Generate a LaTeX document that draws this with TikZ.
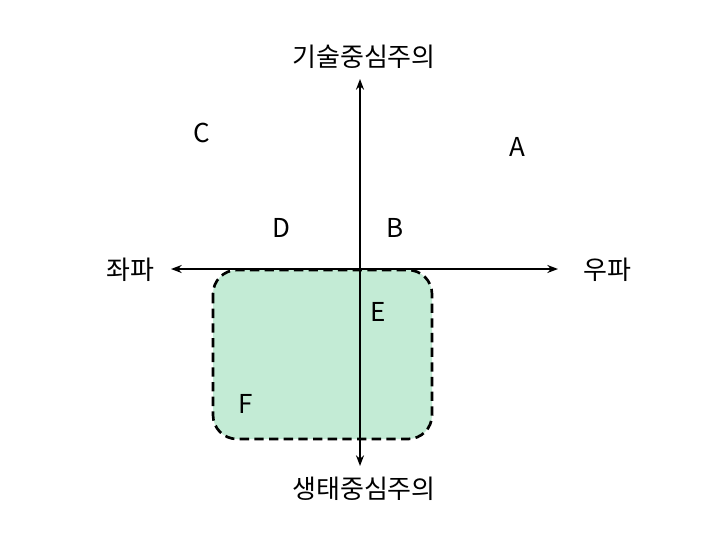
\documentclass[tikz,border=0pt]{standalone}
\usepackage{fontspec}
\setmainfont{Noto Sans CJK KR}
\tikzset{
    axis/.style={line width=1.6pt, -{Stealth[length=8pt,width=6pt]}},
    zone/.style={draw, line width=2pt, dash pattern=on 7pt off 4pt, fill=zonegreen, rounded corners=18pt},
    lbl/.style={font=\fontsize{19.5}{22}\selectfont, inner sep=0pt}
}
\definecolor{zonegreen}{HTML}{C3EBD5}
\usetikzlibrary{arrows.meta}
\begin{document}
\begin{tikzpicture}[x=0.75pt,y=-0.75pt]
    \useasboundingbox (0,0) rectangle (720,540);
    \draw[zone] (213,270) rectangle (432,439);
    \coordinate (O) at (360,269);
    \coordinate (top) at (360,79);
    \coordinate (bot) at (360,466);
    \coordinate (lft) at (171,269);
    \coordinate (rgt) at (558,269);
    \draw[axis] (O) -- (top);
    \draw[axis] (O) -- (bot);
    \draw[axis] (O) -- (lft);
    \draw[axis] (O) -- (rgt);
    \node[lbl] (tech) at (364,57) {기술중심주의};
    \node[lbl] (eco) at (364,489) {생태중심주의};
    \node[lbl] (left) at (130,270) {좌파};
    \node[lbl] (right) at (607,270) {우파};
    \node[lbl] (A) at (517,147) {A};
    \node[lbl] (B) at (395,228) {B};
    \node[lbl] (C) at (202,133) {C};
    \node[lbl] (D) at (281,228) {D};
    \node[lbl] (E) at (378,312) {E};
    \node[lbl] (F) at (246,404) {F};
\end{tikzpicture}
\end{document}
